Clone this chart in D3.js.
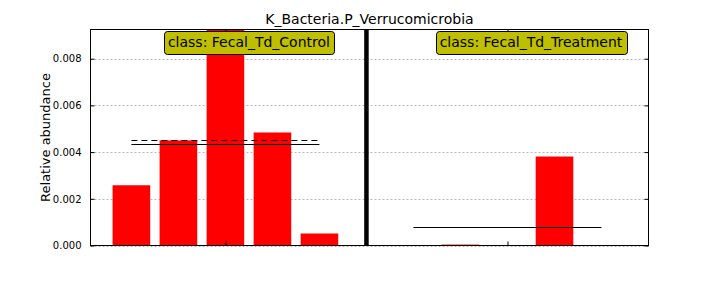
<!DOCTYPE html>
<html>
<head>
<meta charset="utf-8">
<script src="https://cdn.jsdelivr.net/npm/d3@7"></script>
<style>
  body { margin: 0; background: #fff; }
  svg { display: block; font-family: "DejaVu Sans", sans-serif; }
</style>
</head>
<body>
<div id="chart"></div>
<script>
const title = 'K_Bacteria.P_Verrucomicrobia';
const classNames = ['Fecal_Td_Control', 'Fecal_Td_Treatment'];
const controlValues = [0.00258, 0.0045, 0.00925, 0.00484, 0.000514];
const treatmentValues = [0, 0.00004, 0, 0.00381, 0];
const yTicks = [0, 0.002, 0.004, 0.006, 0.008];

const width = 720, height = 288;
const margin = {top: 29.5, right: 71.5, bottom: 42.5, left: 90.5};

// sample positions: each class gets consecutive slots, one empty slot between classes
const groups = [
    {name: classNames[0], values: controlValues, start: 0},
    {name: classNames[1], values: treatmentValues, start: controlValues.length + 1}
];
const bars = [];
groups.forEach(g => g.values.forEach((v, i) => bars.push({pos: g.start + i, value: v})));
const lastPos = groups[1].start + treatmentValues.length - 1;

const svg = d3.select('#chart').append('svg')
    .attr('width', width)
    .attr('height', height);

const x = d3.scaleLinear()
    .domain([-0.47, lastPos + 1.4])
    .range([margin.left, width - margin.right]);

const y = d3.scaleLinear()
    .domain([0, d3.max(bars, d => d.value)])
    .range([height - margin.bottom, margin.top]);

svg.append('defs').append('clipPath').attr('id', 'plot-clip')
    .append('rect')
    .attr('x', margin.left).attr('y', margin.top)
    .attr('width', width - margin.left - margin.right)
    .attr('height', height - margin.top - margin.bottom);

// Grid lines
svg.append('g')
    .selectAll('line')
    .data(yTicks)
    .enter()
    .append('line')
    .attr('x1', margin.left)
    .attr('x2', width - margin.right)
    .attr('y1', d => Math.round(y(d)) + 0.5)
    .attr('y2', d => Math.round(y(d)) + 0.5)
    .attr('stroke', '#b8b8b8')
    .attr('stroke-width', 1)
    .attr('stroke-dasharray', '2,2');

const plot = svg.append('g').attr('clip-path', 'url(#plot-clip)');

// Bars
plot.selectAll('rect.bar')
    .data(bars)
    .enter()
    .append('rect')
    .attr('class', 'bar')
    .attr('x', d => x(d.pos))
    .attr('y', d => y(d.value))
    .attr('width', x(0.8) - x(0))
    .attr('height', d => y(0) - y(d.value))
    .attr('fill', '#ff0000');

// Mean (solid) and median (dashed) lines per class
groups.forEach(g => {
    const x1 = x(g.start + 0.4), x2 = x(g.start + g.values.length - 1 + 0.4);
    const med = Math.round(y(d3.median(g.values)) - 0.5) + 0.5;
    const mean = Math.round(y(d3.mean(g.values)) - 0.5) + 0.5;
    plot.append('line')
        .attr('x1', x1).attr('x2', x2)
        .attr('y1', med).attr('y2', med)
        .attr('stroke', '#000').attr('stroke-width', 1)
        .attr('stroke-dasharray', '6,4');
    plot.append('line')
        .attr('x1', x1).attr('x2', x2)
        .attr('y1', mean).attr('y2', mean)
        .attr('stroke', '#000').attr('stroke-width', 1);
});

// Class separator
const sepPos = (groups[0].start + controlValues.length - 0.2 + groups[1].start) / 2;
svg.append('line')
    .attr('x1', x(sepPos)).attr('x2', x(sepPos))
    .attr('y1', margin.top).attr('y2', height - margin.bottom)
    .attr('stroke', '#000')
    .attr('stroke-width', 4.5);

// Frame
svg.append('rect')
    .attr('x', margin.left).attr('y', margin.top)
    .attr('width', width - margin.left - margin.right)
    .attr('height', height - margin.top - margin.bottom)
    .attr('fill', 'none')
    .attr('stroke', '#000')
    .attr('stroke-width', 1);

// Y axis (ticks inside) and mirrored right ticks
svg.append('g')
    .attr('transform', `translate(${margin.left},0)`)
    .call(d3.axisLeft(y).tickValues(yTicks).tickFormat(d3.format('.3f')).tickSizeInner(-4).tickSizeOuter(0).tickPadding(9))
    .call(g => g.select('.domain').remove())
    .call(g => g.selectAll('text').attr('font-size', '10px').attr('fill', '#000').attr('font-family', 'DejaVu Sans'));

svg.append('g')
    .attr('transform', `translate(${width - margin.right},0)`)
    .call(d3.axisRight(y).tickValues(yTicks).tickFormat('').tickSizeInner(-4).tickSizeOuter(0))
    .call(g => g.select('.domain').remove());

// X ticks at class centres, no labels
const classCenters = groups.map(g => g.start + (g.values.length - 1) / 2 + 0.4);
svg.append('g')
    .attr('transform', `translate(0,${height - margin.bottom})`)
    .call(d3.axisBottom(x).tickValues(classCenters).tickFormat('').tickSizeInner(-4).tickSizeOuter(0))
    .call(g => g.select('.domain').remove());
svg.append('g')
    .attr('transform', `translate(0,${margin.top})`)
    .call(d3.axisTop(x).tickValues(classCenters).tickFormat('').tickSizeInner(-4).tickSizeOuter(0))
    .call(g => g.select('.domain').remove());

// Class labels in yellow boxes
groups.forEach(g => {
    const lbl = svg.append('g');
    const t = lbl.append('text')
        .attr('x', x(g.start + g.values.length / 2 + 0.4))
        .attr('y', 47)
        .attr('text-anchor', 'middle')
        .attr('font-size', '14px')
        .attr('fill', '#000')
        .text('class: ' + g.name);
    const bb = t.node().getBBox();
    lbl.insert('rect', 'text')
        .attr('x', Math.round(bb.x - 4) + 0.5).attr('y', 31.5)
        .attr('width', Math.round(bb.width + 8)).attr('height', 23)
        .attr('rx', 3)
        .attr('fill', '#bfbf00')
        .attr('stroke', '#000')
        .attr('stroke-width', 1);
});

// Title
svg.append('text')
    .attr('x', (margin.left + width - margin.right) / 2)
    .attr('y', 24)
    .attr('text-anchor', 'middle')
    .attr('font-size', '14px')
    .attr('fill', '#000')
    .text(title);

// Y label
svg.append('text')
    .attr('transform', 'rotate(-90)')
    .attr('x', -(margin.top + height - margin.bottom) / 2)
    .attr('y', 50)
    .attr('text-anchor', 'middle')
    .attr('font-size', '13px')
    .attr('fill', '#000')
    .text('Relative abundance');
</script>
</body>
</html>
